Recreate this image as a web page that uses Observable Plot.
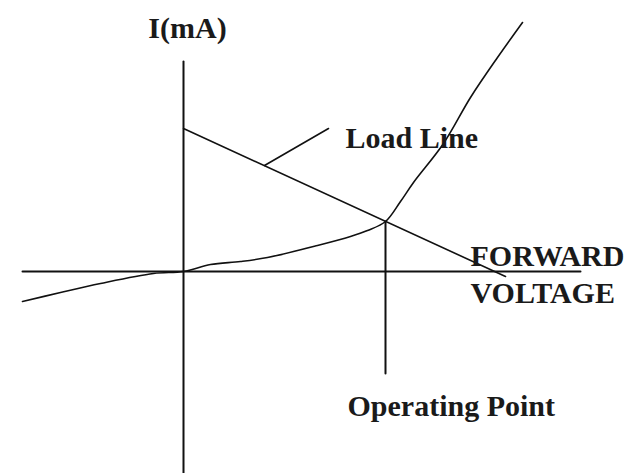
<!DOCTYPE html>
<html>
<head>
<meta charset="utf-8">
<script src="https://cdn.jsdelivr.net/npm/d3@7"></script>
<script src="https://cdn.jsdelivr.net/npm/@observablehq/plot@0.6"></script>
<style>
  html, body { margin: 0; padding: 0; background: #fff; }
</style>
</head>
<body>
<div id="chart"></div>
<script>
// Diode characteristic curve (arbitrary units: forward voltage, current in mA)
const curveV = [-1.61, -1.23, -0.83, -0.30, 0.00, 0.27, 0.57, 0.84, 1.34, 1.67, 1.84, 2.02, 2.17, 2.30, 2.60, 2.87, 3.14, 3.39];
const curveI = [-0.60, -0.42, -0.24, -0.04, 0.00, 0.14, 0.20, 0.28, 0.52, 0.70, 0.82, 1.00, 1.40, 1.78, 2.56, 3.48, 4.28, 4.98];

// Load line end points
const loadV = [0, 3.22];
const loadI = [2.86, -0.10];

// Axes extents
const axisV = [-1.61, 3.97];   // horizontal axis (I = 0)
const axisI = [4.20, -4.04];   // vertical axis (V = 0)

// Operating point and its drop line
const opV = 2.02;
const opI = 1.00;
const dropEndI = -2.04;

// Leader line from the load line to its label
const leaderV = [0.81, 1.45];
const leaderI = [2.12, 2.86];

// Text labels
const labelText = ["I(mA)", "Load Line", "FORWARD", "VOLTAGE", "Operating Point"];
const labelV = [0.04, 1.62, 2.87, 2.87, 1.64];
const labelI = [4.68, 2.48, 0.12, -0.62, -2.88];
const labelAnchor = ["middle", "start", "start", "start", "start"];

const labels = labelText.map((t, i) => ({t, v: labelV[i], c: labelI[i], a: labelAnchor[i]}));
const curve = curveV.map((v, i) => ({v, c: curveI[i]}));
const load = loadV.map((v, i) => ({v, c: loadI[i]}));
const leader = leaderV.map((v, i) => ({v, c: leaderI[i]}));

const font = "'Liberation Serif', 'Times New Roman', serif";

const chart = Plot.plot({
  width: 627,
  height: 473,
  margin: 0,
  x: {domain: [-1.83, 4.44], axis: null},
  y: {domain: [-4.04, 5.42], axis: null},
  style: {background: "#fff"},
  marks: [
    Plot.line(axisV.map(v => ({v, c: 0})), {x: "v", y: "c", stroke: "#111", strokeWidth: 2}),
    Plot.line(axisI.map(c => ({v: 0, c})), {x: "v", y: "c", stroke: "#111", strokeWidth: 2}),
    Plot.line([{v: opV, c: opI}, {v: opV, c: dropEndI}], {x: "v", y: "c", stroke: "#111", strokeWidth: 2}),
    Plot.line(load, {x: "v", y: "c", stroke: "#111", strokeWidth: 1.6}),
    Plot.line(leader, {x: "v", y: "c", stroke: "#111", strokeWidth: 1.6}),
    Plot.line(curve, {x: "v", y: "c", curve: "catmull-rom", stroke: "#111", strokeWidth: 1.6}),
    ...["middle", "start"].map(a => Plot.text(labels.filter(d => d.a === a), {
      x: "v", y: "c", text: "t",
      textAnchor: a,
      lineAnchor: "bottom",
      fontSize: 30,
      fontWeight: "bold",
      fontFamily: font,
      fill: "#1a1a1a"
    }))
  ]
});

document.getElementById("chart").appendChild(chart);
</script>
</body>
</html>
